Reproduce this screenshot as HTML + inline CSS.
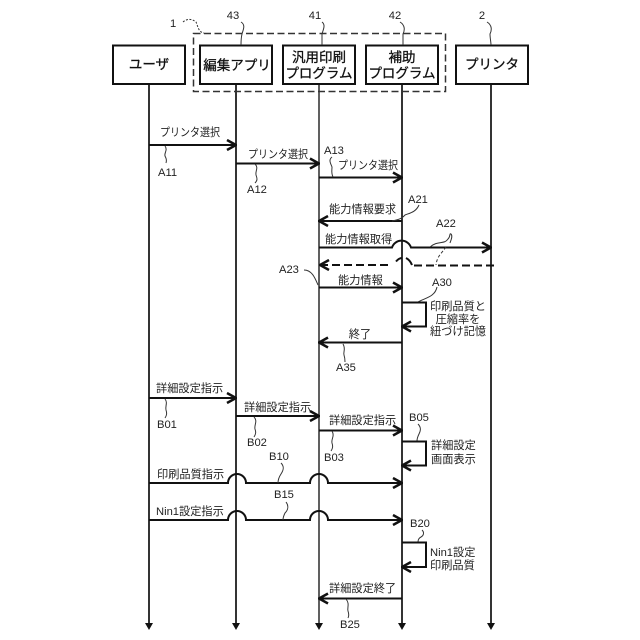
<!DOCTYPE html>
<html><head><meta charset="utf-8"><style>
html,body{margin:0;padding:0;background:#fff}
svg{display:block}
text{font-family:"Liberation Sans","Noto Sans CJK JP",sans-serif;fill:#222;font-size:11.2px}
.b{font-size:13.5px;text-anchor:middle;fill:#111;stroke:#111;stroke-width:.3}
.c{text-anchor:middle}
.l{stroke:#111;stroke-width:2;fill:none}
.g{stroke:#333;stroke-width:1.5;fill:none}
.s{stroke:#333;stroke-width:1;fill:none}
.h{stroke:#111;stroke-width:2;fill:none}
</style></head><body>
<svg width="640" height="640" viewBox="0 0 640 640" xmlns="http://www.w3.org/2000/svg">
<defs>
<marker id="a" markerUnits="userSpaceOnUse" viewBox="0 0 12 12" refX="11" refY="6" markerWidth="12" markerHeight="12" orient="auto-start-reverse"><path d="M2 1L11 6L2 11" fill="none" stroke="#111" stroke-width="2.5"/></marker>
</defs>
<!-- lifelines -->
<path class="l" d="M149 84V625M236 84V625M402 84V625M491 84V625" style="stroke-width:1.7"/>
<path class="g" d="M319 84V625" style="stroke-width:1.7;stroke:#444"/>
<path fill="#111" d="M145 623h8l-4 7zM232 623h8l-4 7zM315 623h8l-4 7zM398 623h8l-4 7zM487 623h8l-4 7z"/>
<!-- dashed group -->
<rect x="193.500" y="33.500" width="252" height="58" fill="none" stroke="#333" stroke-width="1.5" stroke-dasharray="7 3.500"/>
<!-- boxes -->
<g fill="#fff" stroke="#111" stroke-width="2">
<rect x="113" y="45.500" width="72" height="38.500"/>
<rect x="200" y="45.500" width="72" height="38.500"/>
<rect x="283" y="45.500" width="72" height="38.500"/>
<rect x="366" y="45.500" width="72" height="38.500"/>
<rect x="456" y="45.500" width="72" height="38.500"/>
</g>
<text class="b" x="149" y="69">ユーザ</text>
<text class="b" x="237" y="70">編集アプリ</text>
<text class="b" x="319" y="62">汎用印刷</text>
<text class="b" x="319" y="78">プログラム</text>
<text class="b" x="402" y="62">補助</text>
<text class="b" x="402" y="78">プログラム</text>
<text class="b" x="492" y="69">プリンタ</text>
<!-- ref labels -->
<text x="170" y="27">1</text>
<text class="c" x="233" y="19">43</text>
<text class="c" x="315" y="19">41</text>
<text class="c" x="395" y="19">42</text>
<text class="c" x="482" y="19">2</text>
<path class="s" stroke-dasharray="2 1.500" d="M183 22C188 18 192 19 196 22C198 26 198 32 204 33"/>
<path class="s" d="M241 22C246 25 243 30 242 34C241 38 241 42 241 45M322 22C326 25 323 30 322 34C322 38 322 42 322 45M400 22C405 25 405 30 403 34C403 38 403 42 403 45M487 22C492 25 492 30 490 34C490 38 491 42 491 45"/>
<!-- A section -->
<path class="l" marker-end="url(#a)" d="M149 145H236"/>
<text x="160" y="136" textLength="60" lengthAdjust="spacingAndGlyphs">プリンタ選択</text>
<path class="s" d="M165 146C168 150 164 153 165 156C166 158 167 160 166 163"/>
<text x="158" y="176">A11</text>
<path class="h" marker-end="url(#a)" d="M236 163.500H319"/>
<text x="248" y="158" textLength="60" lengthAdjust="spacingAndGlyphs">プリンタ選択</text>
<path class="s" d="M255 164C259 168 255 171 256 175C257 178 258 180 255 183"/>
<text x="247" y="193">A12</text>
<path class="l" marker-end="url(#a)" d="M319 177.500H402"/>
<text x="338" y="169" textLength="60" lengthAdjust="spacingAndGlyphs">プリンタ選択</text>
<text x="324" y="154">A13</text>
<path class="s" d="M332 157C328 160 331 164 332 167C332 170 331 173 333 177"/>
<path class="l" marker-end="url(#a)" d="M402 221H319"/>
<text x="329" y="213">能力情報要求</text>
<text x="408" y="203">A21</text>
<path class="s" d="M419 205C416 212 410 213 405 215C403 217 402 219 392 221"/>
<path class="l" marker-end="url(#a)" d="M319 247.500H392A10 10 0 0 1 411 247.500H491"/>
<text x="325" y="243">能力情報取得</text>
<text x="436" y="227">A22</text>
<path class="s" d="M430 247C438 240 444 245 448 239C451 236 449 233 451 234C453 236 451 240 450 243"/>
<path class="s" stroke-dasharray="3 2" d="M446 247C442 253 437 256 436 265"/>
<path class="h" stroke-dasharray="8 4" marker-start="url(#a)" d="M320 265H392"/>
<path class="h" d="M396 261.500Q399 258 402 258M406 258Q410 260 412 265"/>
<path class="h" stroke-dasharray="8 4" d="M414 265.500H494"/>
<text x="338" y="284">能力情報</text>
<text x="279" y="273">A23</text>
<path class="s" d="M304 270C312 270 315 278 318 285"/>
<path class="l" marker-end="url(#a)" d="M319 287.500H402"/>
<text x="432" y="286">A30</text>
<path class="s" d="M437 287C435 297 425 298 418 302"/>
<path class="l" marker-end="url(#a)" d="M402 302.500H426V326.500H402"/>
<text class="c" x="458" y="310">印刷品質と</text>
<text class="c" x="458" y="323">圧縮率を</text>
<text class="c" x="458" y="335">紐づけ記憶</text>
<path class="l" marker-end="url(#a)" d="M402 342.500H319"/>
<text class="c" x="360" y="338">終了</text>
<path class="s" d="M343 344C346 349 343 352 344 355C345 358 345 360 345 362"/>
<text x="336" y="371">A35</text>
<!-- B section -->
<path class="l" marker-end="url(#a)" d="M149 398H236"/>
<text x="156" y="392">詳細設定指示</text>
<path class="s" d="M165 399C168 403 165 406 166 410C167 413 167 415 165 418"/>
<text x="157" y="428">B01</text>
<path class="h" marker-end="url(#a)" d="M236 416H319"/>
<text x="244" y="411">詳細設定指示</text>
<path class="s" d="M254 417C258 421 254 425 255 429C256 432 256 434 254 437"/>
<text x="247" y="446">B02</text>
<path class="l" marker-end="url(#a)" d="M319 430.500H402"/>
<text x="329" y="424">詳細設定指示</text>
<path class="s" d="M332 431C335 436 331 439 332 443C333 446 333 448 331 451"/>
<text x="324" y="461">B03</text>
<text x="409" y="421">B05</text>
<path class="s" d="M418 424C422 428 420 432 419 434C418 436 417 438 417 441"/>
<path class="l" marker-end="url(#a)" d="M402 441.500H426V465.500H402"/>
<text x="431" y="449">詳細設定</text>
<text x="431" y="463">画面表示</text>
<path class="h" marker-end="url(#a)" d="M149 483H228A9 9 0 0 1 246 483H310A9 9 0 0 1 328 483H402"/>
<text x="157" y="478">印刷品質指示</text>
<text x="269" y="460">B10</text>
<path class="s" d="M281 463C285 467 283 471 281 474C279 477 278 480 278 483"/>
<path class="h" marker-end="url(#a)" d="M149 520H228A9 9 0 0 1 246 520H310A9 9 0 0 1 328 520H402"/>
<text x="156" y="515">Nin1設定指示</text>
<text x="274" y="498">B15</text>
<path class="s" d="M286 502C289 506 288 510 285 513C284 515 283 517 283 520"/>
<text x="410" y="527">B20</text>
<path class="s" d="M422 530C425 533 423 536 421 537C419 538 418 540 418 542"/>
<path class="l" marker-end="url(#a)" d="M402 542.500H426V567H402"/>
<text x="430" y="556">Nin1設定</text>
<text x="430" y="569">印刷品質</text>
<path class="l" marker-end="url(#a)" d="M402 598.500H319"/>
<text x="329" y="592">詳細設定終了</text>
<path class="s" d="M346 599C350 604 347 607 348 611C349 614 349 616 348 618"/>
<text x="340" y="628">B25</text>
</svg>
</body></html>
